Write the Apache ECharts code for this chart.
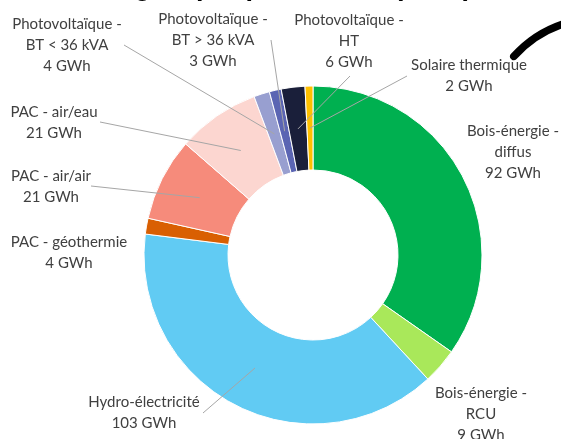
<!DOCTYPE html>
<html>
<head>
<meta charset="utf-8">
<script src="https://cdn.jsdelivr.net/npm/echarts@6/dist/echarts.min.js"></script>
<style>
  html, body { margin: 0; padding: 0; background: #fff; }
  #chart { width: 561px; height: 439px; }
</style>
</head>
<body>
<div id="chart"></div>
<script>
// categories, clockwise from 12 o'clock
var categories = [
  'Bois-énergie -\ndiffus',
  'Bois-énergie -\nRCU',
  'Hydro-électricité',
  'PAC - géothermie',
  'PAC - air/air',
  'PAC - air/eau',
  'Photovoltaïque -\nBT < 36 kVA',
  'Photovoltaïque -\nBT > 36 kVA',
  'Photovoltaïque -\nHT',
  'Solaire thermique'
]
var values = [92, 9, 103, 4, 21, 21, 4, 3, 6, 2] // GWh
var colors = ['#00B050', '#A9E85A', '#61CBF3', '#D95F02', '#F68B7B', '#FCD6D0', '#989FD0', '#5B65B3', '#1A1F3A', '#FFC000']

// label placement (centre of text block) and where the leader line leaves the label
var labelX = [513, 481, 144, 69, 51, 54, 67, 213, 349, 469]
var labelY = [152, 414, 413, 253, 187, 123, 45, 40, 41, 76]
var lineFrom = [null, null, [203, 413], null, [91, 186], [100, 122], [124, 45], [271, 40], [350, 76], [407, 76]]

var center = [313, 255]
var radius = [85, 169]

var chart = echarts.init(document.getElementById('chart'))

// mid angle of every slice, so the leader lines end inside the ring
var total = values.reduce(function(a, b) { return a + b }, 0)
var acc = 0
var mids = values.map(function(v) {
  var m = (acc + v / 2) / total * Math.PI * 2
  acc += v
  return m
})
var ringR = (radius[0] + radius[1]) / 2
var leaderLines = []
lineFrom.forEach(function(p, i) {
  if (!p) return
  leaderLines.push({
    type: 'polyline',
    z: 10,
    shape: { points: [p, [center[0] + ringR * Math.sin(mids[i]), center[1] - ringR * Math.cos(mids[i])]] },
    style: { stroke: '#A6A6A6', lineWidth: 1, fill: null }
  })
})

chart.setOption({
  backgroundColor: '#fff',
  animation: false,
  color: colors,
  graphic: [
    {
      // title, cut off at the top of the picture
      type: 'text',
      style: {
        text: 'Répartition des énergies par production (2022)',
        x: 472,
        y: -12,
        textAlign: 'right',
        textVerticalAlign: 'middle',
        font: 'bold 27px "Liberation Sans"',
        fill: '#000'
      }
    },
    {
      type: 'arc',
      shape: { cx: 600, cy: 134, r: 116, startAngle: 222 * Math.PI / 180, endAngle: 258 * Math.PI / 180 },
      style: { stroke: '#000', lineWidth: 7.5, fill: null, lineCap: 'round' }
    }
  ].concat(leaderLines),
  series: [
    {
      type: 'pie',
      center: center,
      radius: radius,
      startAngle: 90,
      clockwise: true,
      avoidLabelOverlap: false,
      itemStyle: { borderColor: '#fff', borderWidth: 1 },
      label: {
        show: true,
        position: 'outside',
        formatter: '{b}\n{c} GWh',
        fontFamily: 'Lato',
        fontSize: 15,
        lineHeight: 21,
        color: '#404040',
        align: 'center'
      },
      labelLine: { show: false },
      labelLayout: function(params) {
        var i = params.dataIndex
        return { x: labelX[i], y: labelY[i], align: 'center', verticalAlign: 'middle' }
      },
      emphasis: { disabled: true },
      data: values.map(function(v, i) {
        return { name: categories[i], value: v }
      })
    }
  ]
})
</script>
</body>
</html>
